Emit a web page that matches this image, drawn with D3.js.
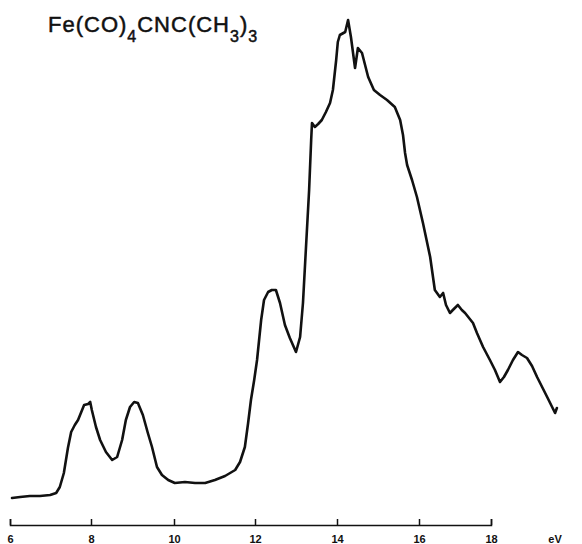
<!DOCTYPE html>
<html>
<head>
<meta charset="utf-8">
<script src="https://cdn.jsdelivr.net/npm/d3@7"></script>
<style>
  body { margin: 0; background: #fff; }
  svg { display: block; }
  .axis text { font-family: "Liberation Sans", Arial, sans-serif; font-size: 11px; font-weight: bold; fill: #111; }
  .axis path, .axis line { stroke: #111; stroke-width: 1.5; }
</style>
</head>
<body>
<div id="container"></div>
<script>
(function () {
  var width = 582,
      height = 544;

  // photon energy (eV) and relative count rate
  var energy = [6.05, 6.25, 6.49, 6.74, 6.99, 7.14, 7.23, 7.33, 7.43, 7.51, 7.60, 7.68, 7.73, 7.83, 7.93, 7.98,
    8.02, 8.12, 8.22, 8.36, 8.51, 8.63, 8.75, 8.84, 8.94, 9.04, 9.13, 9.25, 9.37, 9.47, 9.59, 9.71, 9.86,
    10.02, 10.27, 10.52, 10.77, 11.01, 11.26, 11.51, 11.63, 11.75, 11.83, 11.90, 11.98,
    12.05, 12.15, 12.22, 12.32, 12.41, 12.51, 12.61, 12.73, 12.85, 13.00, 13.10, 13.17, 13.24, 13.32, 13.37, 13.39,
    13.46, 13.54, 13.63, 13.73, 13.83, 13.90, 13.98, 14.02, 14.07, 14.20, 14.27, 14.34, 14.44, 14.51, 14.61,
    14.76, 14.90, 15.05, 15.22, 15.41, 15.54, 15.61, 15.66, 15.71, 15.83, 15.95, 16.11, 16.31, 16.44, 16.58,
    16.67, 16.75, 16.86, 16.94, 17.08, 17.19, 17.28, 17.50, 17.61, 17.78, 17.97, 18.11, 18.25, 18.36, 18.47,
    18.61, 18.75, 18.86, 19.00, 19.14, 19.28, 19.42, 19.56, 19.67, 19.78, 19.83];

  var counts = [0.4, 0.6, 0.8, 0.8, 1.0, 1.4, 2.6, 5.4, 10.4, 13.6, 15.0, 16.0, 17.0, 19.0, 19.2, 19.6,
    18.0, 14.6, 12.0, 9.6, 8.0, 8.6, 12.0, 16.0, 18.6, 19.6, 19.4, 17.0, 13.4, 10.6, 6.6, 5.0, 4.0,
    3.4, 3.6, 3.4, 3.4, 4.0, 4.8, 6.0, 7.6, 10.6, 15.4, 20.0, 24.0,
    28.0, 36.0, 40.0, 41.6, 42.0, 42.0, 39.4, 35.0, 32.4, 29.6, 32.6, 39.4, 50.0, 62.0, 72.0, 75.4,
    74.6, 75.2, 76.0, 77.6, 79.4, 82.0, 88.0, 91.6, 93.0, 93.6, 96.0, 92.6, 86.4, 90.4, 89.4,
    84.6, 82.0, 81.0, 80.0, 78.6, 76.0, 73.0, 69.4, 67.0, 64.0, 60.6, 55.4, 48.6, 42.0, 40.6,
    41.4, 39.0, 37.4, 38.0, 39.0, 38.0, 37.4, 35.4, 33.4, 30.6, 28.0, 26.0, 23.6, 24.6, 26.0,
    28.0, 29.6, 29.0, 28.4, 26.8, 24.6, 22.6, 20.6, 19.0, 17.4, 18.4];

  var tickValues = [6, 8, 10, 12, 14, 16, 18];
  var tickPixels = [10, 91, 174, 255, 337, 419, 491]; // chart paper is a little uneven

  var svg = d3.select("#container").append("svg")
    .attr("width", width).attr("height", height);

  var x = d3.scaleLinear().domain(tickValues).range(tickPixels);
  var y = d3.scaleLinear().domain([0, 100]).range([500, 0]);

  var data = energy.map(function (e, i) { return [e, counts[i]]; });

  var line = d3.line()
    .x(function (d) { return x(d[0]); })
    .y(function (d) { return y(d[1]); });

  svg.append("path")
    .datum(data)
    .attr("d", line)
    .attr("fill", "none")
    .attr("stroke", "#111")
    .attr("stroke-width", 2.6)
    .attr("stroke-linejoin", "round")
    .attr("stroke-linecap", "round");

  var axis = svg.append("g")
    .attr("class", "axis")
    .attr("transform", "translate(0,525)")
    .call(d3.axisBottom(x)
      .tickValues(tickValues)
      .tickFormat(d3.format("d"))
      .tickSizeInner(-6)
      .tickSizeOuter(-6)
      .tickPadding(10));

  axis.append("text")
    .attr("x", 555)
    .attr("y", 10)
    .attr("dy", "0.71em")
    .attr("text-anchor", "middle")
    .text("eV");

  // title with subscripts
  var title = svg.append("text")
    .attr("x", 48)
    .attr("y", 32)
    .style("font-family", "'Liberation Sans', Arial, sans-serif")
    .style("font-size", "22px")
    .style("letter-spacing", "1px")
    .style("fill", "#111")
    .style("stroke", "#111")
    .style("stroke-width", 0.5);

  var parts = [["Fe(CO)", 0], ["4", 1], ["CNC(CH", 0], ["3", 1], [")", 0], ["3", 1]];
  var prevSub = 0;
  parts.forEach(function (p) {
    var shift = (p[1] - prevSub) * 10;
    title.append("tspan")
      .attr("dy", shift)
      .style("font-size", p[1] ? "16px" : "22px")
      .text(p[0]);
    prevSub = p[1];
  });
})();
</script>
</body>
</html>
